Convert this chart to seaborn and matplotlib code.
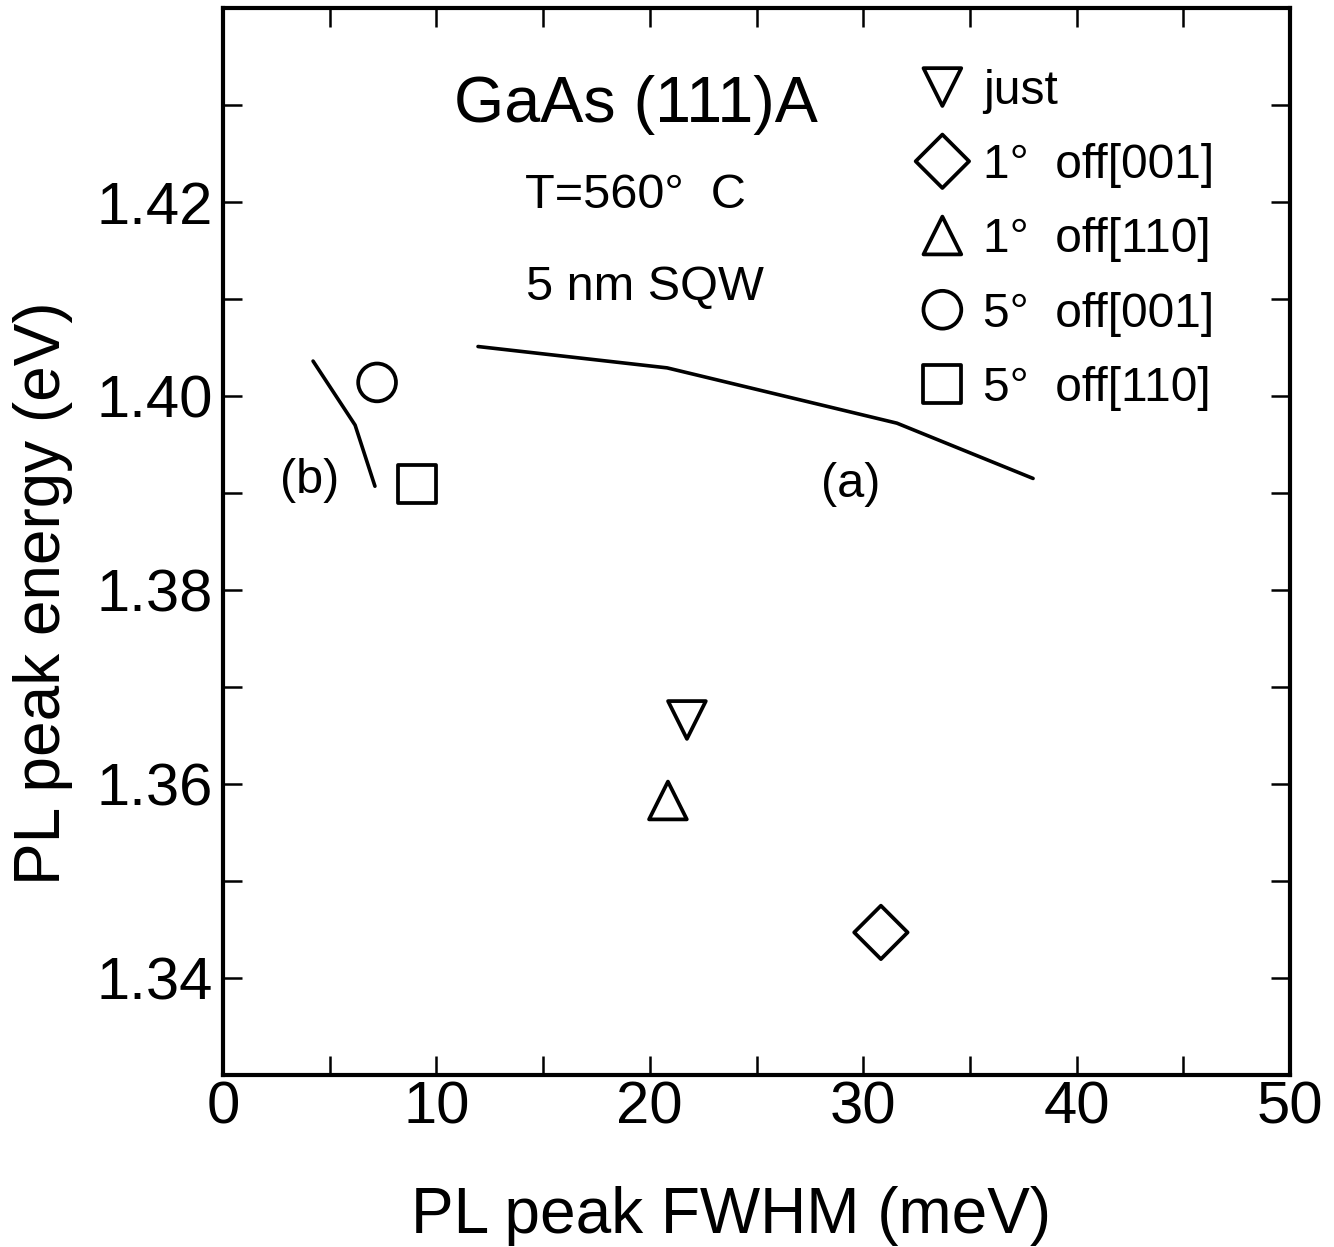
import matplotlib
matplotlib.use("Agg")
import matplotlib.pyplot as plt
import seaborn as sns
import pandas as pd
from matplotlib.ticker import MultipleLocator, FixedLocator, FixedFormatter

# ---------------- data ----------------
series_labels = ["just", "1°  off[001]", "1°  off[110]", "5°  off[001]", "5°  off[110]"]
series_markers = ["v", "D", "^", "o", "s"]
fwhm = [21.74, 30.83, 20.85, 7.22, 9.09]
energy = [1.3666, 1.3447, 1.3583, 1.4014, 1.3909]

curve_a_x = [11.95, 20.81, 31.58, 37.96]
curve_a_y = [1.4051, 1.4029, 1.3972, 1.3915]
curve_b_x = [4.22, 6.19, 7.12]
curve_b_y = [1.4036, 1.3970, 1.3907]

x_ticks = [0, 10, 20, 30, 40, 50]
x_tick_labels = ["0", "10", "20", "30", "40", "50"]
y_ticks = [1.34, 1.36, 1.38, 1.40, 1.42]
y_tick_labels = ["1.34", "1.36", "1.38", "1.40", "1.42"]

# ---------------- style ----------------
sns.set_style("ticks")
plt.rcParams["font.family"] = ["Liberation Sans", "DejaVu Sans"]
plt.rcParams["text.color"] = "black"
plt.rcParams["axes.labelcolor"] = "black"
plt.rcParams["xtick.color"] = "black"
plt.rcParams["ytick.color"] = "black"
plt.rcParams["xtick.labelcolor"] = "black"
plt.rcParams["ytick.labelcolor"] = "black"

fig = plt.figure(figsize=(13.34, 12.47), dpi=100)
ax = fig.add_axes([223 / 1334, 1 - 1075 / 1247, 1067 / 1334, 1067 / 1247])

df = pd.DataFrame({"fwhm": fwhm, "energy": energy, "label": series_labels, "marker": series_markers})

# curves
sns.lineplot(x=curve_a_x, y=curve_a_y, sort=False, estimator=None, color="black", lw=2.6, ax=ax)
sns.lineplot(x=curve_b_x, y=curve_b_y, sort=False, estimator=None, color="black", lw=2.6, ax=ax)

# points
for _, row in df.iterrows():
    sns.scatterplot(x=[row["fwhm"]], y=[row["energy"]], marker=row["marker"], s=740,
                    color="black", facecolor="none", edgecolor="black", linewidth=2.7,
                    label=row["label"], ax=ax, legend=False)

ax.set_xlim(0, 50)
ax.set_ylim(1.33, 1.44)

ax.xaxis.set_major_locator(FixedLocator(x_ticks))
ax.xaxis.set_major_formatter(FixedFormatter(x_tick_labels))
ax.xaxis.set_minor_locator(MultipleLocator(5))
ax.yaxis.set_major_locator(FixedLocator(y_ticks))
ax.yaxis.set_major_formatter(FixedFormatter(y_tick_labels))
ax.yaxis.set_minor_locator(MultipleLocator(0.01))

ax.tick_params(which="both", direction="in", top=True, right=True, length=14, width=1.8,
               color="black")
ax.tick_params(axis="x", which="major", labelsize=43, pad=4, labelcolor="black")
ax.tick_params(axis="y", which="major", labelsize=43, pad=7, labelcolor="black")
for sp in ax.spines.values():
    sp.set_linewidth(3)
    sp.set_color("black")

ax.set_xlabel("PL peak FWHM (meV)", fontsize=46, color="black")
ax.set_ylabel("PL peak energy (eV)", fontsize=46, color="black")
ax.xaxis.set_label_coords(0.476, -0.104)
ax.yaxis.set_label_coords(-0.141, 0.452)

# annotations
ax.text(19.35, 1.4282, "GaAs (111)A", fontsize=46.5, ha="center", va="baseline", color="black")
ax.text(14.15, 1.4194, "T=560°  C", fontsize=35, ha="left", va="baseline", color="black")
ax.text(14.2, 1.4099, "5 nm SQW", fontsize=35, ha="left", va="baseline", color="black")
ax.text(29.4, 1.3896, "(a)", fontsize=35, ha="center", va="baseline", color="black")
ax.text(4.08, 1.3900, "(b)", fontsize=35, ha="center", va="baseline", color="black")

ax.legend(loc="upper left", bbox_to_anchor=(0.654, 0.943), frameon=False, fontsize=34.5,
          handlelength=0.9, handletextpad=0.4, labelspacing=0.61, borderpad=0,
          borderaxespad=0, scatteryoffsets=[0.5], labelcolor="black")

fig.savefig("out.png", dpi=100)
